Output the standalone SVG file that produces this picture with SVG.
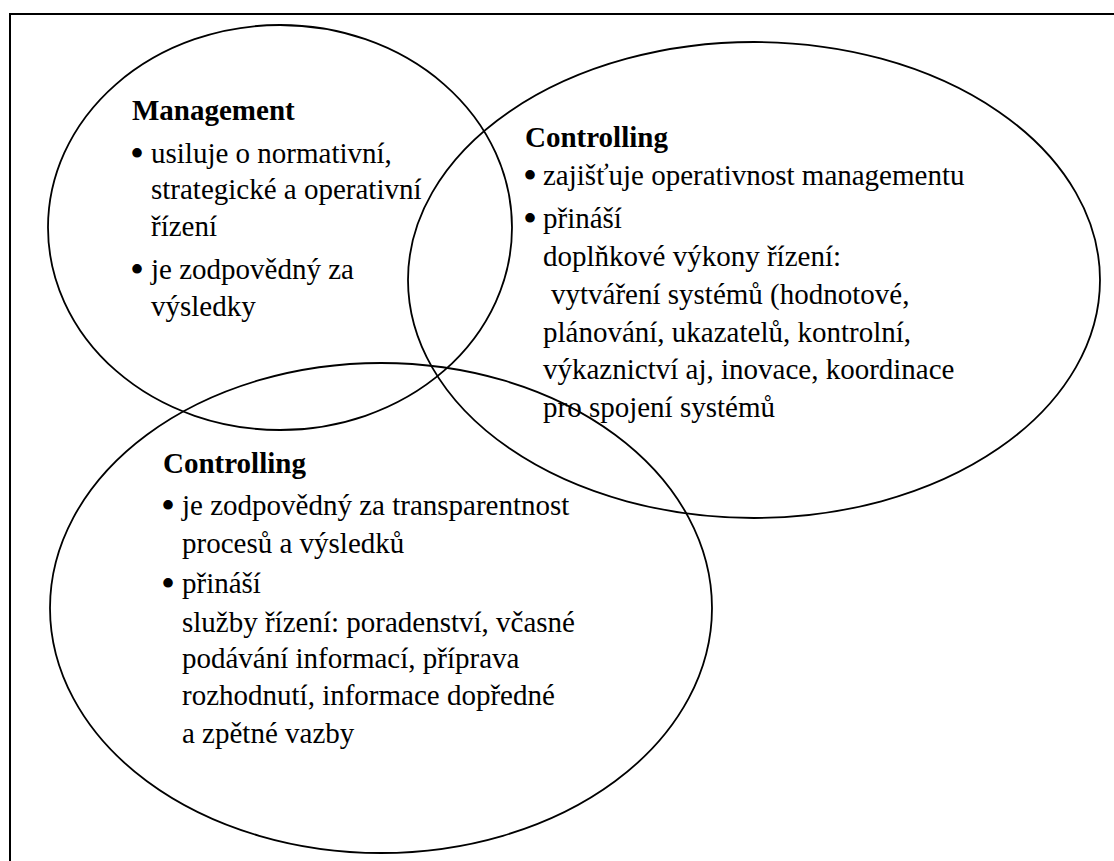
<svg xmlns="http://www.w3.org/2000/svg" width="1114" height="861" viewBox="0 0 1114 861">
<style>
.frame{fill:none;stroke:#000;stroke-width:2}
.oval{fill:none;stroke:#000;stroke-width:1.8}
text{font-family:"Liberation Serif","Times New Roman",serif;font-size:29px;fill:#000}
.h{font-weight:bold}
.b{font-size:40px}
</style>
<rect width="1114" height="861" fill="#fff"/>
<path class="frame" d="M10,861 V14 H1114"/>
<g id="management">
<ellipse class="oval" cx="280" cy="227.5" rx="232" ry="202.5"/>
<text class="h" x="132" y="120">Management</text>
<text class="b" x="130" y="167">•</text>
<text x="151" y="163">usiluje o normativní,</text>
<text x="151" y="199">strategické a operativní</text>
<text x="151" y="236">řízení</text>
<text class="b" x="130" y="283">•</text>
<text x="151" y="279">je zodpovědný za</text>
<text x="151" y="316">výsledky</text>
</g>
<g id="controlling-top">
<ellipse class="oval" cx="754" cy="280" rx="346" ry="238"/>
<text class="h" x="525" y="147">Controlling</text>
<text class="b" x="523" y="189">•</text>
<text x="543" y="185">zajišťuje operativnost managementu</text>
<text class="b" x="523" y="232">•</text>
<text x="543" y="228">přináší</text>
<text x="543" y="266">doplňkové výkony řízení:</text>
<text x="551" y="304">vytváření systémů (hodnotové,</text>
<text x="543" y="342">plánování, ukazatelů, kontrolní,</text>
<text x="543" y="379">výkaznictví aj, inovace, koordinace</text>
<text x="543" y="417">pro spojení systémů</text>
</g>
<g id="controlling-bottom">
<ellipse class="oval" cx="381" cy="608" rx="331" ry="245"/>
<text class="h" x="163" y="473">Controlling</text>
<text class="b" x="161" y="519">•</text>
<text x="182" y="515">je zodpovědný za transparentnost</text>
<text x="182" y="553">procesů a výsledků</text>
<text class="b" x="161" y="597">•</text>
<text x="182" y="593">přináší</text>
<text x="182" y="632">služby řízení: poradenství, včasné</text>
<text x="182" y="668">podávání informací, příprava</text>
<text x="182" y="705">rozhodnutí, informace dopředné</text>
<text x="182" y="743">a zpětné vazby</text>
</g>
</svg>
